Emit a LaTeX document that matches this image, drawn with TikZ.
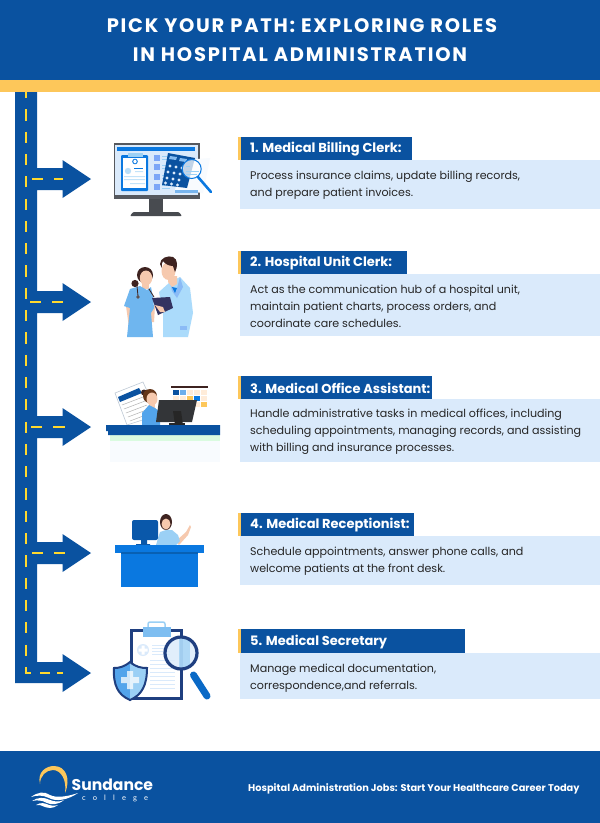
\documentclass[tikz,border=0pt]{standalone}
\usepackage{fontspec}
\setmainfont{Poppins}
\newfontfamily\titlefont[LetterSpace=9]{Poppins}
\newfontfamily\logofont[LetterSpace=95]{Lato}
\usetikzlibrary{positioning}
\definecolor{roadblue}{HTML}{0A52A0}
\definecolor{sunyellow}{HTML}{FDC75A}
\definecolor{dashyellow}{HTML}{FFD92E}
\definecolor{cardblue}{HTML}{DAEAFB}
\definecolor{skin}{HTML}{F6C9AE}
\definecolor{hairbrown}{HTML}{3E2320}
\definecolor{midblue}{HTML}{0A78E0}
\definecolor{paleblue}{HTML}{9BD0F5}
\definecolor{coatblue}{HTML}{ABDBFB}
\definecolor{darknavy}{HTML}{1F3F80}
\definecolor{screengray}{HTML}{55585E}
\tikzset{
  headline/.style={text=white,anchor=center,inner sep=0pt,font=\titlefont\bfseries\fontsize{19.5}{24}\selectfont},
  cardtitle/.style={text=white,anchor=west,inner sep=0pt,font=\bfseries\fontsize{13}{15}\selectfont},
  cardtext/.style={text=black!85,anchor=west,inner sep=0pt,align=left,font=\fontsize{11.1}{17}\selectfont},
  roaddash/.style={draw=dashyellow,line width=1.4pt,dash pattern=on 11.2pt off 11.1pt},
  paper/.style={draw=cardblue!70!gray,line width=0.6pt}
}
\begin{document}
\begin{tikzpicture}[line cap=butt,line join=miter,x=1pt,y=-1pt]
\useasboundingbox (0,0) rectangle (600,823);
\fill [white] (0,0) rectangle (600,823);

% header and footer
\fill [roadblue] (0,0) rectangle (600,80);
\fill [sunyellow] (0,80) rectangle (600,92);
\fill [roadblue] (0,751) rectangle (600,823);
\node [headline] (titleA) at (302,25.5) {PICK YOUR PATH: EXPLORING ROLES};
\node [headline] (titleB) at (300,55) {IN HOSPITAL ADMINISTRATION};

% road
\fill [roadblue] (15,92) -- (37,92) -- (37,168) -- (62.5,168) -- (62.5,160) -- (91,179) -- (62.5,198) -- (62.5,190) -- (37,190)
  -- (37,291) -- (62.5,291) -- (62.5,283) -- (91,302) -- (62.5,321) -- (62.5,313) -- (37,313)
  -- (37,416) -- (62.5,416) -- (62.5,408) -- (91,427) -- (62.5,446) -- (62.5,438) -- (37,438)
  -- (37,542) -- (62.5,542) -- (62.5,534) -- (91,553) -- (62.5,572) -- (62.5,564) -- (37,564)
  -- (37,662) -- (62.5,662) -- (62.5,654) -- (91,673) -- (62.5,692) -- (62.5,683) -- (15,683) -- cycle;
\draw [roaddash,dash phase=5pt] (26,92) -- (26,673) -- (31,673);
\draw [roaddash] (32,179) -- (63,179);
\draw [roaddash] (30,302) -- (63,302);
\draw [roaddash] (31,427) -- (65,427);
\draw [roaddash] (32,553) -- (65,553);
\draw [roaddash] (40,673) -- (50,673) (57,673) -- (63,673);

% card 1
\fill [cardblue] (240,160) rectangle (600,209);
\fill [roadblue] (240,137) rectangle (412,160);
\fill [sunyellow] (238,137) rectangle (241,160);
\node [cardtitle] (headA) at (250,149.5) {1. Medical Billing Clerk:};
\node [cardtext] (textA) at (250,185) {Process insurance claims, update billing records,\\and prepare patient invoices.};

% card 2
\fill [cardblue] (240,274) rectangle (600,336);
\fill [roadblue] (240,251) rectangle (407,274);
\fill [sunyellow] (238,251) rectangle (241,274);
\node [cardtitle] (headB) at (250,263.5) {2. Hospital Unit Clerk:};
\node [cardtext] (textB) at (250,306.5) {Act as the communication hub of a hospital unit,\\maintain patient charts, process orders, and\\coordinate care schedules.};

% card 3
\fill [cardblue] (240,399) rectangle (600,462);
\fill [roadblue] (240,376) rectangle (432,399);
\fill [sunyellow] (238,376) rectangle (241,399);
\node [cardtitle] (headC) at (250,388.5) {3. Medical Office Assistant:};
\node [cardtext] (textC) at (250,431.5) {Handle administrative tasks in medical offices, including\\scheduling appointments, managing records, and assisting\\with billing and insurance processes.};

% card 4
\fill [cardblue] (240,536) rectangle (600,585);
\fill [roadblue] (240,513) rectangle (414,536);
\fill [sunyellow] (238,513) rectangle (241,536);
\node [cardtitle] (headD) at (250,525.5) {4. Medical Receptionist:};
\node [cardtext] (textD) at (250,561) {Schedule appointments, answer phone calls, and\\welcome patients at the front desk.};

% card 5
\fill [cardblue] (240,653) rectangle (600,699);
\fill [roadblue] (240,629) rectangle (465,653);
\fill [sunyellow] (238,629) rectangle (241,653);
\node [cardtitle] (headE) at (250,642) {5. Medical Secretary};
\node [cardtext] (textE) at (250,678) {Manage medical documentation,\\correspondence,and referrals.};

% monitor
\fill [screengray] (113.5,143) rectangle (199.5,199);
\fill [cardblue] (115,145) rectangle (198,195);
\fill [midblue] (117,147) rectangle (195,151);
\fill [screengray!85!black] (149,199) rectangle (163,212);
\fill [screengray!85!black,rounded corners=1pt] (130,216) -- (133,212) -- (179,212) -- (182,216) -- cycle;
\fill [midblue,rounded corners=1pt] (121,155) rectangle (148,191);
\fill [white] (123,158) rectangle (146,188);
\fill [paleblue] (128,153) rectangle (143,157);
\fill [midblue] (135,161.5) circle (2.8);
\fill [white] (134.2,159.8) rectangle (135.8,163.2) (133.3,160.7) rectangle (136.7,162.3);
\fill [paleblue!70] (128,171) circle (3.2);
\fill [midblue] (134,168) rectangle (143,169);
\fill [paleblue!60] (135,171) rectangle (143,172) (124,176) rectangle (145,177) (124,179) rectangle (145,180) (130,183) rectangle (145,184);
\foreach \rowy in {155,164,174,184} {
  \fill [paleblue!80!blue] (154,\rowy) rectangle (160,\rowy+6);
  \fill [paleblue] (162,\rowy+1) rectangle (170,\rowy+2);
  \fill [paleblue] (162,\rowy+4) rectangle (170,\rowy+5);
}
\fill [white!80!cardblue] (183,160) -- (210,158) -- (203,193) -- (175,190) -- cycle;
\fill [midblue!55!white] (175,190) rectangle (198,193);
\fill [roadblue] (168,153) -- (195,158) -- (187,188) -- (162,185) -- cycle;
\foreach \keyx/\keyy in {170/166,176/167,182/168,168/172,174/173,180/174,167/178,173/179,179/180,165.5/183,171.5/184,177.5/185}
  \fill [cardblue] (\keyx,\keyy) circle (1.7);
\fill [midblue!50!white] (170,156) -- (177,157) -- (176,160) -- (169,159) -- cycle (180,158) -- (187,159) -- (186,162) -- (179,161) -- cycle;
\fill [white,opacity=0.75] (191.7,169) circle (9.5);
\draw [midblue,line width=1pt] (191.7,169) circle (9.5);
\draw [paleblue,line width=0.8pt] (186,166) -- (190,166) (186,171) -- (199,171) (186,174) -- (197,174);
\draw [midblue,line width=2.6pt,line cap=round] (198,177) -- (211,192);

% two staff members
\fill [hairbrown] (135,283.5) circle (3.6);
\fill [hairbrown] (145,275) circle (8);
\fill [skin] (146,278) ellipse (6.2 and 7.5);
\fill [skin] (142,283) rectangle (149,289);
\fill [skin] (126,306) -- (132,306) -- (133,327) -- (129,327) -- cycle;
\fill [skin] (151,306) -- (155,306) -- (154,322) -- (151,322) -- cycle;
\fill [paleblue!70!midblue] (124,306) -- (130,289) -- (140,286) -- (147,290) -- (151,287) -- (153,297) -- (154,308) -- (151,313) -- (153,337) -- (127,337) -- (130,308) -- cycle;
\draw [hairbrown,line width=0.8pt] (137,286) -- (138,296) (149,289) -- (154,297);
\fill [hairbrown!50!gray] (138,297) circle (1.8);
\fill [coatblue] (159,292) -- (170,282) -- (180,277) -- (190,288) -- (193,313) -- (188,337) -- (163,337) -- (163,314) -- cycle;
\fill [paleblue!90!blue] (170,282) -- (176,292) -- (180,277) -- (183,287) -- (177,298) -- (172,291) -- cycle;
\fill [midblue] (172,287) -- (177,288) -- (175,293) -- cycle;
\fill [skin] (168.5,271) ellipse (7 and 9);
\fill [skin] (168,276) -- (177,276) -- (177,284) -- (172,287) -- (168,282) -- cycle;
\fill [hairbrown] (160,264) .. controls (160,258) and (168,255) .. (173,257) .. controls (178,259) and (178,267) .. (175,272) -- (173,266) .. controls (169,266) and (165,264) .. (163,261) .. controls (162,263) and (161,265) .. (162,268) -- cycle;
\fill [black!70!blue!60!gray] (152,298) -- (170,297) -- (173,308) -- (158,315) -- cycle;
\fill [skin] (155,305) -- (163,307) -- (165,312) -- (160,312) -- cycle;
\fill [paleblue!90!blue] (180,326) rectangle (187,330);

% office assistant at desk
\fill [white] (115,393) -- (143,382) -- (158,415) -- (127,425) -- cycle;
\draw [paper] (115,393) -- (143,382) -- (158,415) -- (127,425) -- cycle;
\fill [roadblue] (118,397) -- (139,388) -- (142,393) -- (120,402) -- cycle;
\draw [gray!60,line width=0.5pt] (122,405) -- (143,397) (124,409) -- (145,401) (126,413) -- (147,405) (128,417) -- (149,409) (130,421) -- (151,413);
\fill [white] (171,384) rectangle (208,408);
\fill [hairbrown] (171,386) rectangle (208,388);
\foreach \cellx in {173,180,187,194,201}
  \foreach \celly in {390,396,402}
    \fill [orange!15] (\cellx,\celly) rectangle (\cellx+5.5,\celly+4.5);
\foreach \cellx/\celly/\cellc in {173/390/roadblue,187/396/sunyellow,194/396/midblue,201/402/sunyellow,180/390/midblue!60}
  \fill [\cellc] (\cellx,\celly) rectangle (\cellx+5.5,\celly+4.5);
\fill [hairbrown] (144,392.5) circle (3);
\fill [hairbrown!80!orange] (150,396) circle (7);
\fill [skin] (152,399) ellipse (5.5 and 6.5);
\fill [skin] (149,403) rectangle (155,408);
\fill [paleblue!50!midblue] (142,425) -- (142,413) -- (149,405) -- (155,408) -- (160,412) -- (160,425) -- cycle;
\fill [screengray!60!black] (159,400) -- (197,400) -- (192,422) -- (156,422) -- cycle;
\fill [black!85] (173,411) -- (181,411) -- (183,425) -- (175,425) -- cycle;
\fill [black!85] (169,423) rectangle (185,425);
\fill [cardblue!20] (110,441) rectangle (220,462);
\fill [cardblue!60!green!30] (110,435) rectangle (220,441);
\fill [roadblue] (106,425) rectangle (220,431) (108,431) rectangle (220,435);

% receptionist at desk
\fill [hairbrown] (166,522) ellipse (6 and 8);
\fill [skin] (166,524) ellipse (4.5 and 5.5);
\fill [skin] (176,541) -- (186,532) -- (190,525) -- (191,527) -- (188,535) -- (179,545) -- cycle;
\fill [paleblue] (156,545) -- (160,532) -- (166,530) -- (172,530) -- (178,535) -- (180,541) -- (176,545) -- cycle;
\fill [roadblue!85!midblue,rounded corners=2pt] (132,520) rectangle (158,540);
\fill [roadblue!85!midblue] (141,540) rectangle (147,544) (136,544) rectangle (150,546);
\fill [midblue] (121,553) rectangle (198,587);
\fill [midblue] (115,545) rectangle (204,553);
\fill [midblue!80!black] (121,552) rectangle (198,554);

% clipboard and shield
\fill [white] (130,628) rectangle (183,700);
\draw [darknavy,line width=3pt] (131.5,630) rectangle (181.5,698.5);
\fill [cardblue] (143,650) circle (6);
\fill [white] (141.5,645.5) rectangle (144.5,654.5) (138.5,648.5) rectangle (147.5,651.5);
\foreach \liney in {645,648,651,654}
  \fill [cardblue] (152,\liney) rectangle (170,\liney+1);
\foreach \liney in {660,664,668,672,676,680,684,688}
  \fill [cardblue] (150,\liney) rectangle (175,\liney+1);
\draw [paleblue,line width=1.5pt,rounded corners=2pt] (148,628) -- (148,622) -- (165,622) -- (165,628);
\fill [paleblue!80!midblue] (143,627) rectangle (171,637);
\fill [cardblue,fill opacity=0.8] (181,653) circle (16);
\fill [paleblue,fill opacity=0.7] (179,637) rectangle (190,668);
\draw [darknavy,line width=3.2pt] (181,653) circle (16);
\draw [midblue!60!roadblue,line width=7pt,line cap=round] (193.5,675) -- (207,696);
\fill [paleblue!50!midblue] (130,662) .. controls (124,667) and (119,668) .. (114,668) .. controls (113,685) and (118,695) .. (130,700) .. controls (142,695) and (147,685) .. (147,668) .. controls (141,668) and (136,667) .. (130,662) -- cycle;
\fill [paleblue] (130,662) .. controls (136,667) and (141,668) .. (147,668) .. controls (147,685) and (142,695) .. (130,700) -- cycle;
\draw [darknavy,line width=2pt] (130,662) .. controls (124,667) and (119,668) .. (114,668) .. controls (113,685) and (118,695) .. (130,700) .. controls (142,695) and (147,685) .. (147,668) .. controls (141,668) and (136,667) .. (130,662) -- cycle;
\fill [white,fill opacity=0.75] (127,671) rectangle (133,689) (121,677) rectangle (139,683);

% logo
\fill [sunyellow] (40,784) .. controls (37,772) and (46,766) .. (54,766) .. controls (66,766) and (71,779) .. (65,793) .. controls (67,780) and (61,770) .. (53,770) .. controls (46,770) and (40,776) .. (40,784) -- cycle;
\fill [white] (31,797) .. controls (38,792) and (44,791) .. (50,795) .. controls (56,798) and (66,797) .. (78,793) .. controls (68,800) and (56,802) .. (49,798) .. controls (43,795) and (37,795) .. (31,797) -- cycle;
\fill [white] (32,801) .. controls (38,797) and (44,797) .. (50,800) .. controls (55,802) and (60,802) .. (64,800) .. controls (58,805) and (51,805) .. (47,803) .. controls (42,800) and (37,800) .. (32,801) -- cycle;
\fill [white] (36,805) .. controls (41,802) and (45,803) .. (49,805) .. controls (52,806) and (54,806) .. (58,805) .. controls (53,809) and (48,808) .. (45,807) .. controls (42,805) and (39,805) .. (36,805) -- cycle;
\node [text=white,anchor=west,inner sep=0pt,font=\bfseries\fontsize{15.6}{18}\selectfont] (logoname) at (71.5,785) {Sundance};
\node [text=white,anchor=west,inner sep=0pt,font=\logofont\fontsize{7.5}{9}\selectfont] (logosub) at (82,798.5) {college};
\node [text=white,anchor=west,inner sep=0pt,font=\bfseries\fontsize{9.8}{12}\selectfont] (footline) at (248,788.5) {Hospital Administration Jobs: Start Your Healthcare Career Today};
\end{tikzpicture}
\end{document}
